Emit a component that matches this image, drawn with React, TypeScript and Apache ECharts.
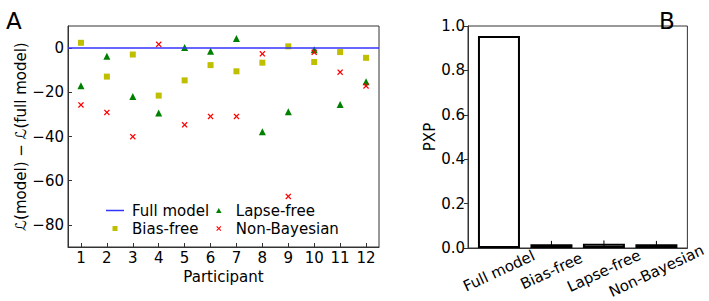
import React, { useEffect, useRef } from "react";
import * as echarts from "echarts";

const participants = [1, 2, 3, 4, 5, 6, 7, 8, 9, 10, 11, 12];
const biasFree = [2.4, -12.9, -2.9, -21.5, -14.6, -7.7, -10.5, -6.6, 0.8, -6.3, -1.8, -4.4];
const lapseFree = [-17.0, -3.7, -21.9, -29.4, 0.3, -1.4, 4.4, -37.8, -28.8, -0.8, -25.5, -15.2];
const nonBayesian = [-25.7, -29.1, -40.1, 1.7, -34.7, -30.9, -30.9, -2.6, -67.1, -1.9, -10.9, -17.1];
const yTicksA = [-80, -60, -40, -20, 0];

const models = ["Full model", "Bias-free", "Lapse-free", "Non-Bayesian"];
const pxp = [0.955, 0.017, 0.019, 0.017];
const pxpErr = [0.0, 0.015, 0.015, 0.015];
const yTicksB = [0, 0.2, 0.4, 0.6, 0.8, 1.0];

const FONT = "DejaVu Sans";
const X_PATH = "path://M1.5,0 L5,3.5 L8.5,0 L10,1.5 L6.5,5 L10,8.5 L8.5,10 L5,6.5 L1.5,10 L0,8.5 L3.5,5 L0,1.5 Z";
const SQ_PATH = "path://M0,0H10V10H0Z";
const TRI_PATH = "path://M5,0L10,9H0Z";
const LINE_PATH = "path://M0,0H18V1.5H0Z";

export default function App() {
  const ref = useRef<HTMLDivElement>(null);
  useEffect(() => {
    if (!ref.current) return;
    const chart = echarts.init(ref.current, null, { renderer: "svg" });
    const fmtMinus = (v: number) => (v < 0 ? "\u2212" + Math.abs(v) : String(v));
    const axisLine = { show: true, onZero: false, lineStyle: { color: "#333", width: 1 } };
    const tickLabel = { fontFamily: FONT, fontSize: 15, color: "#000" };
    const legendText = { fontFamily: FONT, fontSize: 15, color: "#000", lineHeight: 15 };
    const errData: any[] = [];
    models.forEach((_, i) => {
      if (pxpErr[i] > 0) errData.push([i, pxp[i] - pxpErr[i]], [i, pxp[i] + pxpErr[i]], null);
    });
    const legendBase = {
      orient: "vertical",
      top: 203,
      itemWidth: 18,
      itemHeight: 5,
      itemGap: 3,
      padding: 0,
      symbolKeepAspect: true,
      textStyle: { ...legendText, padding: [0, 0, 0, 3] },
    };
    const option: any = {
      animation: false,
      backgroundColor: "#fff",
      title: [
        { text: "A", left: 1, top: 4, textStyle: { fontFamily: FONT, fontSize: 23, fontWeight: "normal", color: "#000" } },
        { text: "B", left: 654, top: 4, textStyle: { fontFamily: FONT, fontSize: 23, fontWeight: "normal", color: "#000" } },
      ],
      grid: [
        { left: 68, top: 26, width: 311, height: 221, show: true, borderColor: "#333", borderWidth: 1 },
        { left: 468, top: 26, width: 223, height: 222, show: true, borderColor: "#333", borderWidth: 1 },
      ],
      xAxis: [
        {
          type: "value",
          gridIndex: 0,
          min: 0.5,
          max: 12.5,
          name: "Participant",
          nameLocation: "middle",
          nameGap: 20,
          nameTextStyle: { fontFamily: FONT, fontSize: 15, color: "#000" },
          axisLine,
          splitLine: { show: false },
          axisTick: { show: true, inside: true, length: 4, customValues: participants, lineStyle: { color: "#333" } },
          axisLabel: { ...tickLabel, margin: 3, customValues: participants, formatter: (v: number) => String(v) },
        },
        {
          type: "value",
          gridIndex: 1,
          min: -0.59,
          max: 3.59,
          axisLine,
          splitLine: { show: false },
          axisTick: { show: false },
          axisLabel: {
            ...tickLabel,
            customValues: [0, 1, 2, 3],
            rotate: 25,
            align: "center",
            verticalAlign: "middle",
            margin: 23,
            formatter: (v: number) => models[Math.round(v)] ?? "",
          },
        },
      ],
      yAxis: [
        {
          type: "value",
          gridIndex: 0,
          min: -90,
          max: 10,
          name: "\u2112(model) \u2212 \u2112(full model)",
          nameLocation: "middle",
          nameGap: 38,
          nameTextStyle: { fontFamily: FONT, fontSize: 15, color: "#000" },
          axisLine,
          splitLine: { show: false },
          axisTick: { show: true, inside: true, length: 4, customValues: yTicksA, lineStyle: { color: "#333" } },
          axisLabel: { ...tickLabel, margin: 4, customValues: yTicksA, formatter: fmtMinus },
        },
        {
          type: "value",
          gridIndex: 1,
          min: 0,
          max: 1,
          name: "PXP",
          nameLocation: "middle",
          nameGap: 31,
          nameTextStyle: { fontFamily: FONT, fontSize: 15, color: "#000" },
          axisLine,
          splitLine: { show: false },
          axisTick: { show: true, inside: false, length: 4, customValues: yTicksB, lineStyle: { color: "#333" } },
          axisLabel: { ...tickLabel, margin: 3, customValues: yTicksB, formatter: (v: number) => v.toFixed(1) },
        },
      ],
      legend: [
        {
          ...legendBase,
          left: 106,
          data: [
            { name: "Full model", icon: LINE_PATH, itemStyle: { color: "#3333ff" } },
            { name: "Bias-free", icon: SQ_PATH },
          ],
        },
        {
          ...legendBase,
          left: 216,
          textStyle: { ...legendText, padding: [0, 0, 0, 3] },
          data: [
            { name: "Lapse-free", icon: TRI_PATH },
            { name: "Non-Bayesian", icon: X_PATH },
          ],
        },
      ],
      series: [
        {
          name: "Bias-free",
          type: "scatter",
          xAxisIndex: 0,
          yAxisIndex: 0,
          symbol: "rect",
          symbolSize: 6,
          itemStyle: { color: "#bfbf00", opacity: 1 },
          data: participants.map((p, i) => [p, biasFree[i]]),
          z: 2,
        },
        {
          name: "Full model",
          type: "line",
          xAxisIndex: 0,
          yAxisIndex: 0,
          data: [],
          symbol: "none",
          lineStyle: { color: "#3333ff", width: 1.5 },
          itemStyle: { color: "#3333ff" },
          markLine: {
            silent: true,
            symbol: ["none", "none"],
            label: { show: false },
            lineStyle: { color: "#3333ff", width: 1.5, type: "solid" },
            data: [{ yAxis: 0 }],
          },
          z: 3,
        },
        {
          name: "Lapse-free",
          type: "scatter",
          xAxisIndex: 0,
          yAxisIndex: 0,
          symbol: "triangle",
          symbolSize: 7,
          itemStyle: { color: "#008000", opacity: 1 },
          data: participants.map((p, i) => [p, lapseFree[i]]),
          z: 4,
        },
        {
          name: "Non-Bayesian",
          type: "scatter",
          xAxisIndex: 0,
          yAxisIndex: 0,
          symbol: X_PATH,
          symbolSize: 6,
          itemStyle: { color: "#ff0000", opacity: 1 },
          data: participants.map((p, i) => [p, nonBayesian[i]]),
          z: 5,
        },
        {
          name: "PXP",
          type: "bar",
          xAxisIndex: 1,
          yAxisIndex: 1,
          barWidth: 42,
          itemStyle: { color: "#ffffff", borderColor: "#000", borderWidth: 2 },
          data: models.map((_, i) => [i, pxp[i]]),
          z: 2,
        },
        {
          name: "PXP err",
          type: "line",
          xAxisIndex: 1,
          yAxisIndex: 1,
          symbol: "none",
          connectNulls: false,
          lineStyle: { color: "#000", width: 1 },
          data: errData,
          z: 3,
        },
      ],
    };
    chart.setOption(option);
    return () => chart.dispose();
  }, []);
  return (
    <div
      ref={ref}
      style={{ position: "fixed", left: 0, top: 0, width: 709, height: 301, background: "#fff" }}
    />
  );
}
